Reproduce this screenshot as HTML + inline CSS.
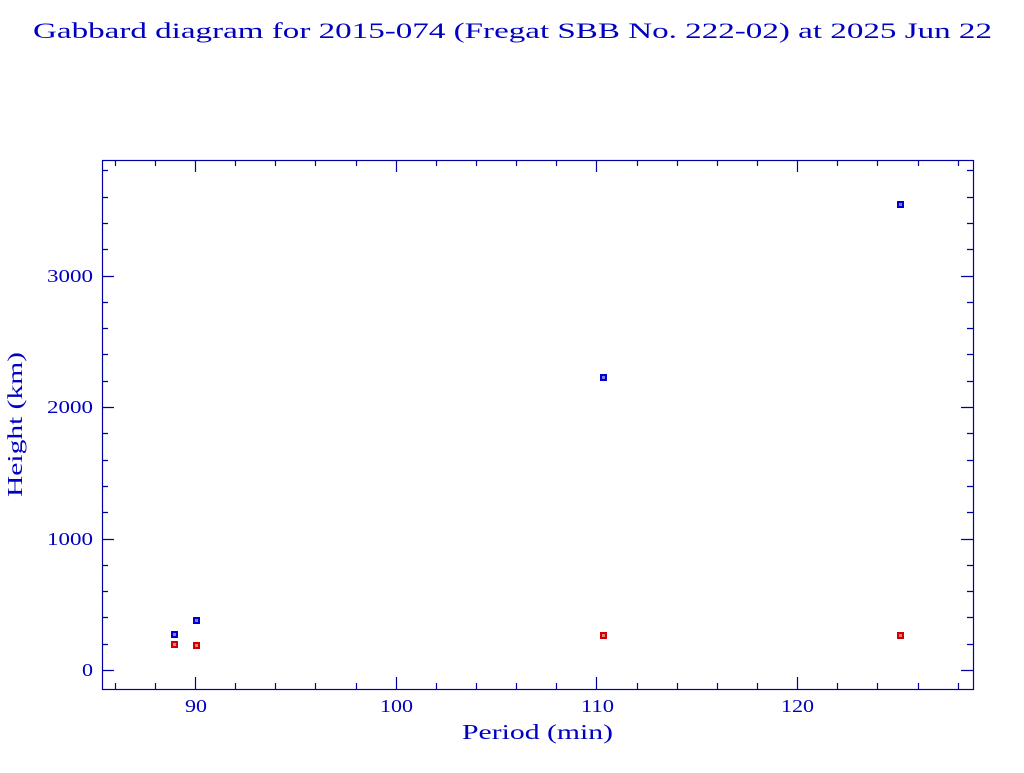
<!DOCTYPE html>
<html><head><meta charset="utf-8"><style>html,body{margin:0;padding:0;background:#fff}</style></head>
<body>
<svg width="1024" height="768" xmlns="http://www.w3.org/2000/svg" font-family="Liberation Serif, serif" fill="#0000c0">
<text x="33" y="38" font-size="22" textLength="959" lengthAdjust="spacingAndGlyphs">Gabbard diagram for 2015-074 (Fregat SBB No. 222-02) at 2025 Jun 22</text>
<rect x="102.5" y="160.5" width="871" height="529" fill="none" stroke="#0000a0" stroke-width="1.2"/>
<g font-size="18" fill="#0000c0" lengthAdjust="spacingAndGlyphs">
<text x="185" y="712" textLength="22" lengthAdjust="spacingAndGlyphs">90</text>
<text x="380" y="712" textLength="33" lengthAdjust="spacingAndGlyphs">100</text>
<text x="581" y="712" textLength="33" lengthAdjust="spacingAndGlyphs">110</text>
<text x="781" y="712" textLength="33" lengthAdjust="spacingAndGlyphs">120</text>
<text x="82" y="676" textLength="11" lengthAdjust="spacingAndGlyphs">0</text>
<text x="47" y="545" textLength="46" lengthAdjust="spacingAndGlyphs">1000</text>
<text x="47" y="413" textLength="46" lengthAdjust="spacingAndGlyphs">2000</text>
<text x="47" y="282" textLength="46" lengthAdjust="spacingAndGlyphs">3000</text>
</g>
<text x="462" y="739" font-size="21" textLength="151" lengthAdjust="spacingAndGlyphs">Period (min)</text>
<text transform="translate(22,497) rotate(-90)" font-size="21" textLength="145" lengthAdjust="spacingAndGlyphs">Height (km)</text>
<g stroke-width="2">
<g stroke="#0000d0" fill="#0000d0" fill-opacity="0.5">
<rect x="172" y="632" width="5" height="5"/><rect x="194" y="618" width="5" height="5"/><rect x="601" y="375" width="5" height="5"/><rect x="898" y="202" width="5" height="5"/>
</g>
<g stroke="#d00000" fill="#d00000" fill-opacity="0.5">
<rect x="172" y="642" width="5" height="5"/><rect x="194" y="643" width="5" height="5"/><rect x="601" y="633" width="5" height="5"/><rect x="898" y="633" width="5" height="5"/>
</g>
</g>
<path id="ticks" stroke="#0000a0" stroke-width="1.2" fill="none" d=""/>
<script>
var d="";
for(var p=86;p<=128;p+=2){var x=195+(p-90)*20.07;var L=(p%10==0)?12:6;x=Math.round(x)+0.5;d+="M"+x+" 689V"+(689-L)+"M"+x+" 160V"+(160+L);}
for(var h=0;h<=3800;h+=200){var y=Math.round(670-h*0.1315)+0.5;var L=(h%1000==0)?12:6;d+="M102 "+y+"H"+(102+L)+"M973 "+y+"H"+(973-L);}
document.getElementById("ticks").setAttribute("d",d);
</script>
</svg>
</body></html>
